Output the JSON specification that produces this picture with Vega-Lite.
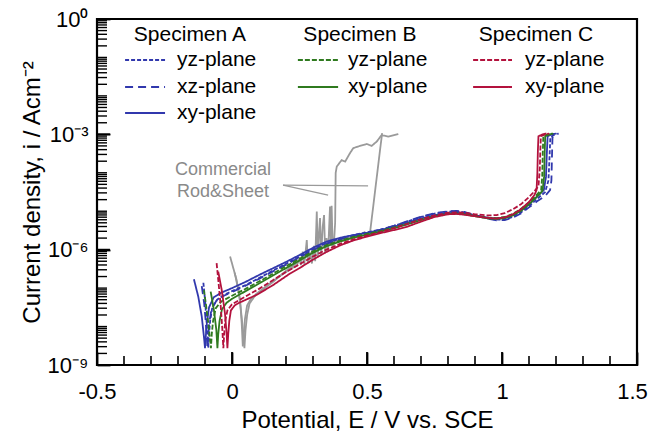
{
  "$schema": "https://vega.github.io/schema/vega-lite/v6.json",
  "width": 540,
  "height": 346,
  "autosize": "none",
  "padding": {"left": 97, "top": 19, "right": 14, "bottom": 68},
  "config": {
    "font": "Liberation Sans",
    "view": {"stroke": "black", "strokeWidth": 2.2},
    "axis": {"labelColor": "black", "titleColor": "black", "titleFontWeight": "normal"}
  },
  "resolve": {"axis": {"x": "independent", "y": "independent"}},
  "datasets": {
    "curves": [
      {"s":"Rod","E":-0.007,"i":6.61e-7},{"s":"Rod","E":0.017,"i":1.62e-7},{"s":"Rod","E":0.03,"i":4.90e-8},{"s":"Rod","E":0.036,"i":1.20e-8},{"s":"Rod","E":0.04,"i":3.02e-9},{"s":"Rod","E":0.044,"i":6.31e-9},{"s":"Rod","E":0.048,"i":1.58e-8},{"s":"Rod","E":0.056,"i":3.55e-8},{"s":"Rod","E":0.07,"i":5.25e-8},{"s":"Rod","E":0.1,"i":7.94e-8},{"s":"Rod","E":0.15,"i":1.51e-7},{"s":"Rod","E":0.2,"i":2.63e-7},{"s":"Rod","E":0.23,"i":3.55e-7},{"s":"Rod","E":0.24,"i":3.80e-7},{"s":"Rod","E":0.25,"i":6.31e-7},{"s":"Rod","E":0.255,"i":3.98e-7},{"s":"Rod","E":0.262,"i":8.91e-7},{"s":"Rod","E":0.268,"i":4.17e-7},{"s":"Rod","E":0.277,"i":1.78e-6},{"s":"Rod","E":0.281,"i":4.47e-7},{"s":"Rod","E":0.29,"i":7.94e-7},{"s":"Rod","E":0.296,"i":4.37e-7},{"s":"Rod","E":0.303,"i":1.26e-6},{"s":"Rod","E":0.308,"i":5.01e-7},{"s":"Rod","E":0.314,"i":9.77e-6},{"s":"Rod","E":0.318,"i":6.31e-7},{"s":"Rod","E":0.322,"i":2.51e-6},{"s":"Rod","E":0.326,"i":6.61e-6},{"s":"Rod","E":0.33,"i":7.08e-7},{"s":"Rod","E":0.336,"i":3.98e-6},{"s":"Rod","E":0.341,"i":7.94e-6},{"s":"Rod","E":0.345,"i":7.94e-7},{"s":"Rod","E":0.35,"i":2.0e-6},{"s":"Rod","E":0.356,"i":8.91e-7},{"s":"Rod","E":0.363,"i":1.32e-5},{"s":"Rod","E":0.366,"i":1.26e-6},{"s":"Rod","E":0.369,"i":1.38e-5},{"s":"Rod","E":0.373,"i":1.12e-6},{"s":"Rod","E":0.378,"i":1.58e-6},{"s":"Rod","E":0.382,"i":5.01e-6},{"s":"Rod","E":0.384,"i":1.0e-4},{"s":"Rod","E":0.388,"i":1.45e-4},{"s":"Rod","E":0.406,"i":2.14e-4},{"s":"Rod","E":0.419,"i":1.95e-4},{"s":"Rod","E":0.437,"i":3.24e-4},{"s":"Rod","E":0.449,"i":4.37e-4},{"s":"Rod","E":0.474,"i":5.01e-4},{"s":"Rod","E":0.499,"i":5.62e-4},{"s":"Rod","E":0.517,"i":5.01e-4},{"s":"Rod","E":0.536,"i":6.46e-4},{"s":"Rod","E":0.554,"i":9.55e-4},{"s":"Rod","E":0.579,"i":8.71e-4},{"s":"Rod","E":0.616,"i":1.02e-3},

      {"s":"Sheet","E":0.01,"i":2.51e-7},{"s":"Sheet","E":0.025,"i":7.94e-8},{"s":"Sheet","E":0.035,"i":2.0e-8},{"s":"Sheet","E":0.042,"i":6.31e-9},{"s":"Sheet","E":0.046,"i":2.75e-9},{"s":"Sheet","E":0.05,"i":7.94e-9},{"s":"Sheet","E":0.056,"i":2.0e-8},{"s":"Sheet","E":0.065,"i":3.98e-8},{"s":"Sheet","E":0.09,"i":7.08e-8},{"s":"Sheet","E":0.15,"i":1.41e-7},{"s":"Sheet","E":0.2,"i":2.82e-7},{"s":"Sheet","E":0.25,"i":5.01e-7},{"s":"Sheet","E":0.28,"i":7.08e-7},{"s":"Sheet","E":0.3,"i":8.91e-7},{"s":"Sheet","E":0.33,"i":1.12e-6},{"s":"Sheet","E":0.36,"i":1.41e-6},{"s":"Sheet","E":0.4,"i":1.78e-6},{"s":"Sheet","E":0.44,"i":2.09e-6},{"s":"Sheet","E":0.47,"i":2.34e-6},{"s":"Sheet","E":0.49,"i":2.82e-6},{"s":"Sheet","E":0.495,"i":2.40e-6},{"s":"Sheet","E":0.505,"i":2.63e-6},{"s":"Sheet","E":0.511,"i":2.69e-6},{"s":"Sheet","E":0.52,"i":8.91e-6},{"s":"Sheet","E":0.53,"i":3.39e-5},{"s":"Sheet","E":0.54,"i":1.29e-4},{"s":"Sheet","E":0.55,"i":4.90e-4},{"s":"Sheet","E":0.556,"i":1.07e-3},

      {"s":"A_xz","E":-0.112,"i":1.12e-7},{"s":"A_xz","E":-0.103,"i":3.98e-8},{"s":"A_xz","E":-0.097,"i":1.26e-8},{"s":"A_xz","E":-0.093,"i":5.01e-9},{"s":"A_xz","E":-0.091,"i":2.75e-9},{"s":"A_xz","E":-0.088,"i":5.62e-9},{"s":"A_xz","E":-0.084,"i":1.26e-8},{"s":"A_xz","E":-0.076,"i":2.82e-8},{"s":"A_xz","E":-0.058,"i":4.68e-8},{"s":"A_xz","E":-0.03,"i":6.31e-8},{"s":"A_xz","E":0.0,"i":7.94e-8},{"s":"A_xz","E":0.05,"i":1.15e-7},{"s":"A_xz","E":0.1,"i":1.74e-7},{"s":"A_xz","E":0.15,"i":2.69e-7},{"s":"A_xz","E":0.2,"i":4.07e-7},{"s":"A_xz","E":0.25,"i":6.31e-7},{"s":"A_xz","E":0.3,"i":9.77e-7},{"s":"A_xz","E":0.35,"i":1.41e-6},{"s":"A_xz","E":0.4,"i":1.86e-6},{"s":"A_xz","E":0.45,"i":2.29e-6},{"s":"A_xz","E":0.5,"i":2.75e-6},{"s":"A_xz","E":0.55,"i":3.31e-6},{"s":"A_xz","E":0.6,"i":4.17e-6},{"s":"A_xz","E":0.65,"i":5.50e-6},{"s":"A_xz","E":0.7,"i":7.24e-6},{"s":"A_xz","E":0.75,"i":8.91e-6},{"s":"A_xz","E":0.8,"i":1.0e-5},{"s":"A_xz","E":0.83,"i":1.02e-5},{"s":"A_xz","E":0.86,"i":9.55e-6},{"s":"A_xz","E":0.9,"i":7.94e-6},{"s":"A_xz","E":0.95,"i":6.31e-6},{"s":"A_xz","E":0.98,"i":5.75e-6},{"s":"A_xz","E":1.01,"i":5.89e-6},{"s":"A_xz","E":1.04,"i":6.76e-6},{"s":"A_xz","E":1.07,"i":8.71e-6},{"s":"A_xz","E":1.1,"i":1.26e-5},{"s":"A_xz","E":1.13,"i":1.82e-5},{"s":"A_xz","E":1.16,"i":2.51e-5},{"s":"A_xz","E":1.178,"i":3.55e-5},{"s":"A_xz","E":1.183,"i":6.31e-5},{"s":"A_xz","E":1.185,"i":2.51e-4},{"s":"A_xz","E":1.187,"i":8.32e-4},{"s":"A_xz","E":1.2,"i":1.0e-3},{"s":"A_xz","E":1.21,"i":1.05e-3},

      {"s":"A_yz","E":-0.106,"i":1.38e-7},{"s":"A_yz","E":-0.1,"i":5.01e-8},{"s":"A_yz","E":-0.095,"i":1.58e-8},{"s":"A_yz","E":-0.091,"i":6.31e-9},{"s":"A_yz","E":-0.088,"i":2.75e-9},{"s":"A_yz","E":-0.085,"i":6.31e-9},{"s":"A_yz","E":-0.081,"i":1.41e-8},{"s":"A_yz","E":-0.073,"i":3.16e-8},{"s":"A_yz","E":-0.055,"i":5.01e-8},{"s":"A_yz","E":-0.03,"i":6.61e-8},{"s":"A_yz","E":0.0,"i":8.32e-8},{"s":"A_yz","E":0.05,"i":1.20e-7},{"s":"A_yz","E":0.1,"i":1.82e-7},{"s":"A_yz","E":0.15,"i":2.82e-7},{"s":"A_yz","E":0.2,"i":4.27e-7},{"s":"A_yz","E":0.25,"i":6.61e-7},{"s":"A_yz","E":0.3,"i":1.02e-6},{"s":"A_yz","E":0.35,"i":1.48e-6},{"s":"A_yz","E":0.4,"i":1.95e-6},{"s":"A_yz","E":0.45,"i":2.40e-6},{"s":"A_yz","E":0.5,"i":2.82e-6},{"s":"A_yz","E":0.55,"i":3.31e-6},{"s":"A_yz","E":0.6,"i":4.17e-6},{"s":"A_yz","E":0.65,"i":5.37e-6},{"s":"A_yz","E":0.7,"i":7.08e-6},{"s":"A_yz","E":0.75,"i":8.71e-6},{"s":"A_yz","E":0.8,"i":9.77e-6},{"s":"A_yz","E":0.83,"i":1.0e-5},{"s":"A_yz","E":0.86,"i":9.33e-6},{"s":"A_yz","E":0.9,"i":7.76e-6},{"s":"A_yz","E":0.95,"i":6.46e-6},{"s":"A_yz","E":0.98,"i":6.03e-6},{"s":"A_yz","E":1.01,"i":6.17e-6},{"s":"A_yz","E":1.04,"i":7.08e-6},{"s":"A_yz","E":1.07,"i":9.33e-6},{"s":"A_yz","E":1.1,"i":1.35e-5},{"s":"A_yz","E":1.13,"i":2.09e-5},{"s":"A_yz","E":1.16,"i":3.16e-5},{"s":"A_yz","E":1.172,"i":6.31e-5},{"s":"A_yz","E":1.176,"i":2.51e-4},{"s":"A_yz","E":1.179,"i":8.32e-4},{"s":"A_yz","E":1.195,"i":1.0e-3},{"s":"A_yz","E":1.205,"i":1.05e-3},

      {"s":"A_xy","E":-0.141,"i":1.70e-7},{"s":"A_xy","E":-0.125,"i":6.03e-8},{"s":"A_xy","E":-0.112,"i":1.82e-8},{"s":"A_xy","E":-0.104,"i":5.50e-9},{"s":"A_xy","E":-0.1,"i":2.75e-9},{"s":"A_xy","E":-0.097,"i":5.62e-9},{"s":"A_xy","E":-0.093,"i":1.26e-8},{"s":"A_xy","E":-0.085,"i":3.16e-8},{"s":"A_xy","E":-0.068,"i":5.75e-8},{"s":"A_xy","E":-0.04,"i":7.59e-8},{"s":"A_xy","E":0.0,"i":1.0e-7},{"s":"A_xy","E":0.05,"i":1.45e-7},{"s":"A_xy","E":0.1,"i":2.19e-7},{"s":"A_xy","E":0.15,"i":3.24e-7},{"s":"A_xy","E":0.2,"i":4.79e-7},{"s":"A_xy","E":0.25,"i":7.24e-7},{"s":"A_xy","E":0.3,"i":1.12e-6},{"s":"A_xy","E":0.35,"i":1.62e-6},{"s":"A_xy","E":0.4,"i":2.04e-6},{"s":"A_xy","E":0.45,"i":2.40e-6},{"s":"A_xy","E":0.5,"i":2.75e-6},{"s":"A_xy","E":0.55,"i":3.24e-6},{"s":"A_xy","E":0.6,"i":3.98e-6},{"s":"A_xy","E":0.65,"i":5.01e-6},{"s":"A_xy","E":0.7,"i":6.46e-6},{"s":"A_xy","E":0.75,"i":7.94e-6},{"s":"A_xy","E":0.8,"i":8.91e-6},{"s":"A_xy","E":0.83,"i":9.12e-6},{"s":"A_xy","E":0.86,"i":8.71e-6},{"s":"A_xy","E":0.9,"i":7.76e-6},{"s":"A_xy","E":0.95,"i":6.76e-6},{"s":"A_xy","E":0.98,"i":6.46e-6},{"s":"A_xy","E":1.01,"i":6.76e-6},{"s":"A_xy","E":1.04,"i":7.94e-6},{"s":"A_xy","E":1.07,"i":1.05e-5},{"s":"A_xy","E":1.1,"i":1.51e-5},{"s":"A_xy","E":1.13,"i":2.40e-5},{"s":"A_xy","E":1.155,"i":3.55e-5},{"s":"A_xy","E":1.163,"i":7.94e-5},{"s":"A_xy","E":1.166,"i":3.16e-4},{"s":"A_xy","E":1.169,"i":8.91e-4},{"s":"A_xy","E":1.185,"i":1.0e-3},{"s":"A_xy","E":1.2,"i":1.05e-3},

      {"s":"B_yz","E":-0.104,"i":8.91e-8},{"s":"B_yz","E":-0.096,"i":3.55e-8},{"s":"B_yz","E":-0.088,"i":1.26e-8},{"s":"B_yz","E":-0.082,"i":5.01e-9},{"s":"B_yz","E":-0.078,"i":2.75e-9},{"s":"B_yz","E":-0.075,"i":6.31e-9},{"s":"B_yz","E":-0.07,"i":1.41e-8},{"s":"B_yz","E":-0.06,"i":3.02e-8},{"s":"B_yz","E":-0.04,"i":4.47e-8},{"s":"B_yz","E":0.0,"i":6.31e-8},{"s":"B_yz","E":0.05,"i":9.55e-8},{"s":"B_yz","E":0.1,"i":1.48e-7},{"s":"B_yz","E":0.15,"i":2.34e-7},{"s":"B_yz","E":0.2,"i":3.72e-7},{"s":"B_yz","E":0.25,"i":5.75e-7},{"s":"B_yz","E":0.3,"i":9.12e-7},{"s":"B_yz","E":0.35,"i":1.32e-6},{"s":"B_yz","E":0.4,"i":1.70e-6},{"s":"B_yz","E":0.45,"i":2.14e-6},{"s":"B_yz","E":0.5,"i":2.57e-6},{"s":"B_yz","E":0.55,"i":3.09e-6},{"s":"B_yz","E":0.6,"i":3.80e-6},{"s":"B_yz","E":0.65,"i":4.79e-6},{"s":"B_yz","E":0.7,"i":6.17e-6},{"s":"B_yz","E":0.75,"i":7.59e-6},{"s":"B_yz","E":0.8,"i":8.71e-6},{"s":"B_yz","E":0.83,"i":8.91e-6},{"s":"B_yz","E":0.86,"i":8.51e-6},{"s":"B_yz","E":0.9,"i":7.59e-6},{"s":"B_yz","E":0.95,"i":6.76e-6},{"s":"B_yz","E":0.98,"i":6.61e-6},{"s":"B_yz","E":1.01,"i":7.08e-6},{"s":"B_yz","E":1.04,"i":8.51e-6},{"s":"B_yz","E":1.07,"i":1.15e-5},{"s":"B_yz","E":1.1,"i":1.70e-5},{"s":"B_yz","E":1.125,"i":2.51e-5},{"s":"B_yz","E":1.145,"i":3.55e-5},{"s":"B_yz","E":1.149,"i":7.94e-5},{"s":"B_yz","E":1.151,"i":3.16e-4},{"s":"B_yz","E":1.153,"i":8.91e-4},{"s":"B_yz","E":1.17,"i":1.0e-3},{"s":"B_yz","E":1.185,"i":1.05e-3},

      {"s":"B_xy","E":-0.079,"i":8.13e-8},{"s":"B_xy","E":-0.067,"i":2.69e-8},{"s":"B_xy","E":-0.058,"i":8.13e-9},{"s":"B_xy","E":-0.054,"i":2.75e-9},{"s":"B_xy","E":-0.051,"i":6.31e-9},{"s":"B_xy","E":-0.046,"i":1.41e-8},{"s":"B_xy","E":-0.037,"i":2.82e-8},{"s":"B_xy","E":-0.02,"i":4.17e-8},{"s":"B_xy","E":0.0,"i":5.25e-8},{"s":"B_xy","E":0.05,"i":8.32e-8},{"s":"B_xy","E":0.1,"i":1.32e-7},{"s":"B_xy","E":0.15,"i":2.09e-7},{"s":"B_xy","E":0.2,"i":3.31e-7},{"s":"B_xy","E":0.25,"i":5.25e-7},{"s":"B_xy","E":0.3,"i":8.32e-7},{"s":"B_xy","E":0.35,"i":1.23e-6},{"s":"B_xy","E":0.4,"i":1.62e-6},{"s":"B_xy","E":0.45,"i":2.04e-6},{"s":"B_xy","E":0.5,"i":2.45e-6},{"s":"B_xy","E":0.55,"i":2.95e-6},{"s":"B_xy","E":0.6,"i":3.63e-6},{"s":"B_xy","E":0.65,"i":4.57e-6},{"s":"B_xy","E":0.7,"i":5.89e-6},{"s":"B_xy","E":0.75,"i":7.41e-6},{"s":"B_xy","E":0.8,"i":8.51e-6},{"s":"B_xy","E":0.83,"i":8.71e-6},{"s":"B_xy","E":0.86,"i":8.32e-6},{"s":"B_xy","E":0.9,"i":7.41e-6},{"s":"B_xy","E":0.95,"i":6.46e-6},{"s":"B_xy","E":0.98,"i":6.31e-6},{"s":"B_xy","E":1.01,"i":6.61e-6},{"s":"B_xy","E":1.04,"i":7.76e-6},{"s":"B_xy","E":1.07,"i":1.02e-5},{"s":"B_xy","E":1.1,"i":1.51e-5},{"s":"B_xy","E":1.13,"i":2.40e-5},{"s":"B_xy","E":1.15,"i":3.39e-5},{"s":"B_xy","E":1.156,"i":7.94e-5},{"s":"B_xy","E":1.158,"i":3.16e-4},{"s":"B_xy","E":1.16,"i":8.91e-4},{"s":"B_xy","E":1.178,"i":1.0e-3},{"s":"B_xy","E":1.19,"i":1.05e-3},

      {"s":"C_yz","E":-0.057,"i":4.47e-7},{"s":"C_yz","E":-0.05,"i":1.41e-7},{"s":"C_yz","E":-0.042,"i":3.55e-8},{"s":"C_yz","E":-0.036,"i":8.91e-9},{"s":"C_yz","E":-0.032,"i":2.75e-9},{"s":"C_yz","E":-0.029,"i":6.31e-9},{"s":"C_yz","E":-0.025,"i":1.41e-8},{"s":"C_yz","E":-0.017,"i":2.63e-8},{"s":"C_yz","E":0.0,"i":3.80e-8},{"s":"C_yz","E":0.05,"i":6.03e-8},{"s":"C_yz","E":0.1,"i":9.55e-8},{"s":"C_yz","E":0.15,"i":1.58e-7},{"s":"C_yz","E":0.2,"i":2.63e-7},{"s":"C_yz","E":0.25,"i":4.17e-7},{"s":"C_yz","E":0.3,"i":6.61e-7},{"s":"C_yz","E":0.35,"i":1.0e-6},{"s":"C_yz","E":0.4,"i":1.41e-6},{"s":"C_yz","E":0.45,"i":1.86e-6},{"s":"C_yz","E":0.5,"i":2.34e-6},{"s":"C_yz","E":0.55,"i":2.88e-6},{"s":"C_yz","E":0.6,"i":3.63e-6},{"s":"C_yz","E":0.65,"i":4.68e-6},{"s":"C_yz","E":0.7,"i":6.17e-6},{"s":"C_yz","E":0.75,"i":7.76e-6},{"s":"C_yz","E":0.8,"i":9.12e-6},{"s":"C_yz","E":0.83,"i":9.33e-6},{"s":"C_yz","E":0.86,"i":9.12e-6},{"s":"C_yz","E":0.9,"i":8.32e-6},{"s":"C_yz","E":0.95,"i":7.76e-6},{"s":"C_yz","E":0.98,"i":7.94e-6},{"s":"C_yz","E":1.01,"i":8.91e-6},{"s":"C_yz","E":1.04,"i":1.12e-5},{"s":"C_yz","E":1.07,"i":1.51e-5},{"s":"C_yz","E":1.1,"i":2.34e-5},{"s":"C_yz","E":1.115,"i":3.02e-5},{"s":"C_yz","E":1.135,"i":4.47e-5},{"s":"C_yz","E":1.14,"i":1.26e-4},{"s":"C_yz","E":1.142,"i":3.98e-4},{"s":"C_yz","E":1.144,"i":8.91e-4},{"s":"C_yz","E":1.16,"i":1.0e-3},{"s":"C_yz","E":1.175,"i":1.05e-3},

      {"s":"C_xy","E":-0.051,"i":2.69e-7},{"s":"C_xy","E":-0.038,"i":8.91e-8},{"s":"C_xy","E":-0.026,"i":2.19e-8},{"s":"C_xy","E":-0.02,"i":6.61e-9},{"s":"C_xy","E":-0.017,"i":2.75e-9},{"s":"C_xy","E":-0.014,"i":6.31e-9},{"s":"C_xy","E":-0.01,"i":1.41e-8},{"s":"C_xy","E":-0.004,"i":2.63e-8},{"s":"C_xy","E":0.01,"i":3.55e-8},{"s":"C_xy","E":0.03,"i":4.27e-8},{"s":"C_xy","E":0.09,"i":6.61e-8},{"s":"C_xy","E":0.15,"i":1.17e-7},{"s":"C_xy","E":0.215,"i":2.40e-7},{"s":"C_xy","E":0.25,"i":3.31e-7},{"s":"C_xy","E":0.3,"i":5.50e-7},{"s":"C_xy","E":0.35,"i":8.71e-7},{"s":"C_xy","E":0.4,"i":1.29e-6},{"s":"C_xy","E":0.45,"i":1.74e-6},{"s":"C_xy","E":0.5,"i":2.19e-6},{"s":"C_xy","E":0.55,"i":2.69e-6},{"s":"C_xy","E":0.6,"i":3.24e-6},{"s":"C_xy","E":0.65,"i":3.98e-6},{"s":"C_xy","E":0.7,"i":5.37e-6},{"s":"C_xy","E":0.75,"i":7.08e-6},{"s":"C_xy","E":0.8,"i":8.32e-6},{"s":"C_xy","E":0.83,"i":8.51e-6},{"s":"C_xy","E":0.86,"i":8.13e-6},{"s":"C_xy","E":0.9,"i":7.41e-6},{"s":"C_xy","E":0.95,"i":6.61e-6},{"s":"C_xy","E":0.98,"i":6.46e-6},{"s":"C_xy","E":1.01,"i":6.92e-6},{"s":"C_xy","E":1.04,"i":8.32e-6},{"s":"C_xy","E":1.07,"i":1.12e-5},{"s":"C_xy","E":1.1,"i":1.74e-5},{"s":"C_xy","E":1.12,"i":2.63e-5},{"s":"C_xy","E":1.128,"i":3.55e-5},{"s":"C_xy","E":1.131,"i":1.0e-4},{"s":"C_xy","E":1.133,"i":3.98e-4},{"s":"C_xy","E":1.135,"i":8.91e-4},{"s":"C_xy","E":1.15,"i":1.0e-3},{"s":"C_xy","E":1.165,"i":1.05e-3}
    ],
    "legendLines": [
      {"s":"A_yz","E":-0.396,"E2":-0.248,"i":0.0859},
      {"s":"A_xz","E":-0.396,"E2":-0.248,"i":0.01706},
      {"s":"A_xy","E":-0.396,"E2":-0.248,"i":0.0036},
      {"s":"B_yz","E":0.244,"E2":0.393,"i":0.0859},
      {"s":"B_xy","E":0.244,"E2":0.393,"i":0.01706},
      {"s":"C_yz","E":0.893,"E2":1.037,"i":0.0859},
      {"s":"C_xy","E":0.893,"E2":1.037,"i":0.01706}
    ],
    "legendText": [
      {"E":-0.204,"i":0.0859,"t":"yz-plane"},
      {"E":-0.204,"i":0.01706,"t":"xz-plane"},
      {"E":-0.204,"i":0.0036,"t":"xy-plane"},
      {"E":0.43,"i":0.0859,"t":"yz-plane"},
      {"E":0.43,"i":0.01706,"t":"xy-plane"},
      {"E":1.085,"i":0.0859,"t":"yz-plane"},
      {"E":1.085,"i":0.01706,"t":"xy-plane"}
    ],
    "headers": [
      {"E":-0.156,"i":0.385,"t":"Specimen A"},
      {"E":0.474,"i":0.385,"t":"Specimen B"},
      {"E":1.126,"i":0.385,"t":"Specimen C"}
    ],
    "notes": [
      {"E":-0.033,"i":1.17e-4,"t":"Commercial"},
      {"E":-0.033,"i":3.16e-5,"t":"Rod&Sheet"}
    ],
    "pointers": [
      {"E":0.189,"i":4.79e-5,"E2":0.504,"i2":4.57e-5},
      {"E":0.189,"i":4.79e-5,"E2":0.356,"i2":2.63e-5}
    ],
    "xMajor": [{"E":0},{"E":0.5},{"E":1}],
    "xMinor": [{"E":-0.4},{"E":-0.3},{"E":-0.2},{"E":-0.1},{"E":0.1},{"E":0.2},{"E":0.3},{"E":0.4},{"E":0.6},{"E":0.7},{"E":0.8},{"E":0.9},{"E":1.1},{"E":1.2},{"E":1.3},{"E":1.4}],
    "yMajor": [{"i":1e-6},{"i":1e-3}],
    "yMinor": [{"i":2e-9},{"i":3e-9},{"i":4e-9},{"i":5e-9},{"i":6e-9},{"i":7e-9},{"i":8e-9},{"i":9e-9},{"i":1e-8},{"i":2e-8},{"i":3e-8},{"i":4e-8},{"i":5e-8},{"i":6e-8},{"i":7e-8},{"i":8e-8},{"i":9e-8},{"i":1e-7},{"i":2e-7},{"i":3e-7},{"i":4e-7},{"i":5e-7},{"i":6e-7},{"i":7e-7},{"i":8e-7},{"i":9e-7},{"i":2e-6},{"i":3e-6},{"i":4e-6},{"i":5e-6},{"i":6e-6},{"i":7e-6},{"i":8e-6},{"i":9e-6},{"i":1e-5},{"i":2e-5},{"i":3e-5},{"i":4e-5},{"i":5e-5},{"i":6e-5},{"i":7e-5},{"i":8e-5},{"i":9e-5},{"i":1e-4},{"i":2e-4},{"i":3e-4},{"i":4e-4},{"i":5e-4},{"i":6e-4},{"i":7e-4},{"i":8e-4},{"i":9e-4},{"i":2e-3},{"i":3e-3},{"i":4e-3},{"i":5e-3},{"i":6e-3},{"i":7e-3},{"i":8e-3},{"i":9e-3},{"i":1e-2},{"i":2e-2},{"i":3e-2},{"i":4e-2},{"i":5e-2},{"i":6e-2},{"i":7e-2},{"i":8e-2},{"i":9e-2},{"i":0.1},{"i":0.2},{"i":0.3},{"i":0.4},{"i":0.5},{"i":0.6},{"i":0.7},{"i":0.8},{"i":0.9}]
  },
  "layer": [
    {
      "data": {"name": "curves"},
      "mark": {"type": "line", "strokeWidth": 1.8},
      "encoding": {
        "x": {"field": "E", "type": "quantitative",
          "scale": {"domain": [-0.5, 1.5], "nice": false, "zero": false},
          "axis": {"orient": "bottom", "title": "Potential, E / V vs. SCE", "values": [-0.5, 0, 0.5, 1, 1.5],
            "labelExpr": "replace(format(datum.value, '~g'), '\u2212', '-')",
            "labelOffset": {"condition": {"test": "datum.value > 1.4", "value": -5}, "value": 0},
            "grid": false, "domain": false, "labelOverlap": false, "labelFlush": false,
            "labelFontSize": 22, "titleFontSize": 24, "offset": -13, "tickSize": 13, "tickWidth": 1.8, "tickColor": "black", "labelPadding": 16, "titlePadding": 6}},
        "y": {"field": "i", "type": "quantitative",
          "scale": {"type": "log", "domain": [1e-9, 1], "nice": false},
          "axis": {"orient": "left", "title": "Current density, i / Acm\u207b\u00b2",
            "values": [1e-9, 1e-6, 1e-3, 1],
            "labelExpr": "datum.value > 0.5 ? '10\u2070' : datum.value > 5e-4 ? '10\u207b\u00b3' : datum.value > 5e-7 ? '10\u207b\u2076' : '10\u207b\u2079'",
            "grid": false, "domain": false, "labelOverlap": false, "labelFlush": false,
            "labelFontSize": 22, "titleFontSize": 24, "offset": -13, "tickSize": 13, "tickWidth": 1.8, "tickColor": "black", "labelPadding": 9, "titlePadding": 3}},
        "color": {"field": "s", "type": "nominal", "legend": null,
          "scale": {"domain": ["Rod","Sheet","A_xz","A_yz","A_xy","B_yz","B_xy","C_yz","C_xy"],
                    "range": ["#9a9a9a","#9a9a9a","#3138ad","#3138ad","#3138ad","#2f7a1f","#2f7a1f","#b3123d","#b3123d"]}},
        "strokeDash": {"field": "s", "type": "nominal", "legend": null,
          "scale": {"domain": ["Rod","Sheet","A_xz","A_yz","A_xy","B_yz","B_xy","C_yz","C_xy"],
                    "range": [[1,0],[1,0],[8,5],[4,2],[1,0],[5,2],[1,0],[5,2],[1,0]]}},
        "order": {"value": null}
      }
    },
    {
      "data": {"name": "pointers"},
      "mark": {"type": "rule", "color": "#9a9a9a", "strokeWidth": 1.2},
      "encoding": {
        "x": {"field": "E", "type": "quantitative", "axis": null},
        "y": {"field": "i", "type": "quantitative", "axis": null},
        "x2": {"field": "E2"},
        "y2": {"field": "i2"}
      }
    },
    {
      "data": {"name": "notes"},
      "mark": {"type": "text", "fontSize": 18, "color": "#8a8a8a", "align": "center", "baseline": "middle"},
      "encoding": {
        "x": {"field": "E", "type": "quantitative", "axis": null},
        "y": {"field": "i", "type": "quantitative", "axis": null},
        "text": {"field": "t"}
      }
    },
    {
      "data": {"name": "legendLines"},
      "mark": {"type": "rule", "strokeWidth": 2},
      "encoding": {
        "x": {"field": "E", "type": "quantitative", "axis": null},
        "x2": {"field": "E2"},
        "y": {"field": "i", "type": "quantitative", "axis": null},
        "color": {"field": "s", "type": "nominal", "legend": null},
        "strokeDash": {"field": "s", "type": "nominal", "legend": null}
      }
    },
    {
      "data": {"name": "legendText"},
      "mark": {"type": "text", "fontSize": 21, "color": "black", "align": "left", "baseline": "middle"},
      "encoding": {
        "x": {"field": "E", "type": "quantitative", "axis": null},
        "y": {"field": "i", "type": "quantitative", "axis": null},
        "text": {"field": "t"}
      }
    },
    {
      "data": {"name": "headers"},
      "mark": {"type": "text", "fontSize": 21, "color": "black", "align": "center", "baseline": "middle"},
      "encoding": {
        "x": {"field": "E", "type": "quantitative", "axis": null},
        "y": {"field": "i", "type": "quantitative", "axis": null},
        "text": {"field": "t"}
      }
    },
    {
      "data": {"name": "xMajor"},
      "mark": {"type": "rule", "color": "black", "strokeWidth": 1.8},
      "encoding": {
        "x": {"field": "E", "type": "quantitative", "axis": null},
        "y": {"datum": 1e-9, "type": "quantitative", "axis": null},
        "y2": {"datum": 2.18e-9}
      }
    },
    {
      "data": {"name": "xMinor"},
      "mark": {"type": "rule", "color": "black", "strokeWidth": 1.6},
      "encoding": {
        "x": {"field": "E", "type": "quantitative", "axis": null},
        "y": {"datum": 1e-9, "type": "quantitative", "axis": null},
        "y2": {"datum": 1.71e-9}
      }
    },
    {
      "data": {"name": "yMajor"},
      "mark": {"type": "rule", "color": "black", "strokeWidth": 1.8},
      "encoding": {
        "y": {"field": "i", "type": "quantitative", "axis": null},
        "x": {"datum": -0.5, "type": "quantitative", "axis": null},
        "x2": {"datum": -0.452}
      }
    },
    {
      "data": {"name": "yMinor"},
      "mark": {"type": "rule", "color": "black", "strokeWidth": 1.4},
      "encoding": {
        "y": {"field": "i", "type": "quantitative", "axis": null},
        "x": {"datum": -0.5, "type": "quantitative", "axis": null},
        "x2": {"datum": -0.463}
      }
    }
  ]
}
